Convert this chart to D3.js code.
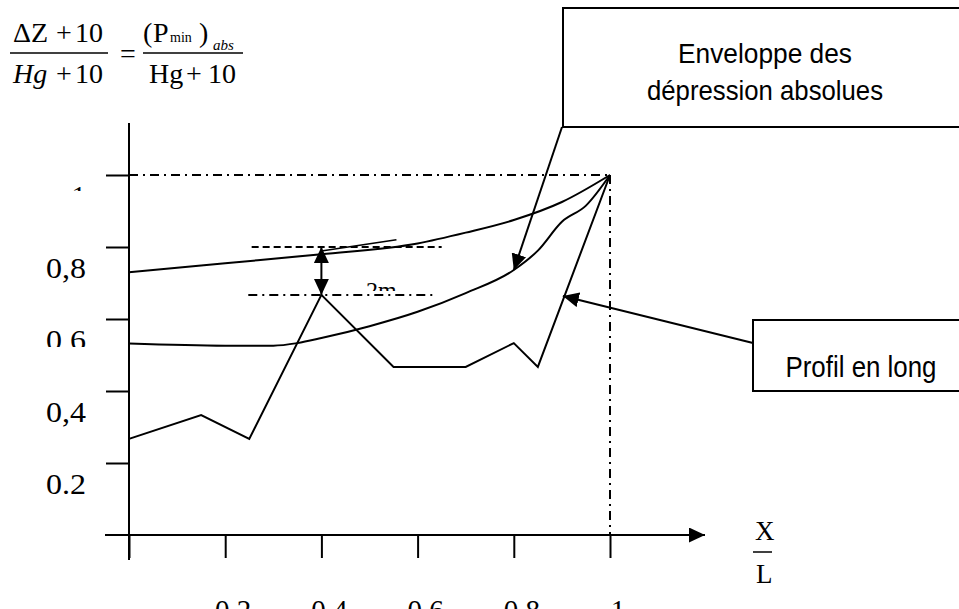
<!DOCTYPE html>
<html>
<head>
<meta charset="utf-8">
<script src="https://cdn.jsdelivr.net/npm/d3@7"></script>
<style>
  body { margin: 0; background: #fff; }
  svg { display: block; }
</style>
</head>
<body>
<div id="canvas"></div>
<script>
// ticks and labels (as printed in the figure)
var xTicks = [0, 0.2, 0.4, 0.6, 0.8, 1];
var xTickLabels = ["", "0.2", "0.4", "0.6", "0.8", "1"];
var yTicks = [0.2, 0.4, 0.6, 0.8, 1];
var yTickLabels = ["0.2", "0,4", "0,6", "0,8", "1"];

// upper curve (Hg + 10 line)
var upperX = [0, 0.2, 0.4, 0.6, 0.7, 0.8, 0.9, 1];
var upperY = [0.73, 0.755, 0.78, 0.81, 0.84, 0.875, 0.925, 1];

// envelope of absolute depressions
var envX = [0, 0.2, 0.3, 0.35, 0.4, 0.5, 0.6, 0.7, 0.8, 0.85, 0.9, 0.95, 1];
var envY = [0.532, 0.526, 0.526, 0.533, 0.547, 0.58, 0.62, 0.672, 0.736, 0.79, 0.87, 0.915, 1];

// long profile
var profX = [0, 0.15, 0.25, 0.4, 0.55, 0.7, 0.8, 0.85, 1];
var profY = [0.267, 0.333, 0.267, 0.667, 0.467, 0.467, 0.533, 0.467, 1];

// small stray segment drawn over the upper curve
var strayX = [0.4, 0.556];
var strayY = [0.789, 0.82];

// "2m" marking: levels and their extents
var markLevels = [0.8, 0.667];
var markFrom = [0.255, 0.248];
var markTo = [0.65, 0.64];
var markAt = 0.4;

var W = 959, H = 609;
var serif = "'Liberation Serif', 'Times New Roman', serif";
var narrow = "'Liberation Sans Narrow', 'Arial Narrow', 'Liberation Sans', sans-serif";
var dashDot = "9,5,2,5";

var svg = d3.select("#canvas").append("svg")
  .attr("width", W).attr("height", H)
  .attr("viewBox", "0 0 " + W + " " + H);

var x = d3.scaleLinear().domain([0, 1]).range([129, 610]);
var y = d3.scaleLinear().domain([0, 1]).range([535, 175]);

var defs = svg.append("defs");
defs.append("marker")
  .attr("id", "tri")
  .attr("viewBox", "0 0 16 15")
  .attr("refX", 16).attr("refY", 7.5)
  .attr("markerWidth", 16).attr("markerHeight", 15)
  .attr("markerUnits", "userSpaceOnUse")
  .attr("orient", "auto-start-reverse")
  .append("path").attr("d", "M0,0L16,7.5L0,15Z").attr("fill", "#000");

// clip windows for the partly hidden labels
var clips = [
  { id: "clip-y1", x: 0, y: 0, w: 120, h: 191 },
  { id: "clip-y06", x: 0, y: 300, w: 120, h: 47 },
  { id: "clip-2m", x: 340, y: 260, w: 80, h: 31 },
  { id: "clip-box1", x: 563, y: 8, w: 400, h: 101 }
];
clips.forEach(function(c) {
  defs.append("clipPath").attr("id", c.id)
    .append("rect").attr("x", c.x).attr("y", c.y).attr("width", c.w).attr("height", c.h);
});

////////////////////////////
// reference lines at 1

svg.append("line")
  .attr("x1", x(0)).attr("x2", x(1)).attr("y1", y(1)).attr("y2", y(1))
  .attr("stroke", "#000").attr("stroke-width", 2).attr("stroke-dasharray", dashDot);
svg.append("line")
  .attr("x1", x(1)).attr("x2", x(1)).attr("y1", y(1)).attr("y2", y(0))
  .attr("stroke", "#000").attr("stroke-width", 2).attr("stroke-dasharray", dashDot);

////////////////////////////
// axes

var yAxis = d3.axisLeft(y).tickValues(yTicks).tickSize(23).tickFormat("");
var gy = svg.append("g").attr("transform", "translate(" + x(0) + ",0)").call(yAxis);
gy.select(".domain").remove();
gy.selectAll(".tick line").attr("stroke", "#000").attr("stroke-width", 2);

var xAxis = d3.axisBottom(x).tickValues(xTicks).tickSize(23).tickFormat("");
var gx = svg.append("g").attr("transform", "translate(0," + y(0) + ")").call(xAxis);
gx.select(".domain").remove();
gx.selectAll(".tick line").attr("stroke", "#000").attr("stroke-width", 2);

svg.append("line")
  .attr("x1", x(0)).attr("x2", x(0)).attr("y1", 123).attr("y2", 560)
  .attr("stroke", "#000").attr("stroke-width", 2);
svg.append("line")
  .attr("x1", 105).attr("x2", 705).attr("y1", y(0)).attr("y2", y(0))
  .attr("stroke", "#000").attr("stroke-width", 2)
  .attr("marker-end", "url(#tri)");

// tick labels, printed a little below their ticks
svg.append("g").selectAll("text")
  .data(yTicks)
  .enter().append("text")
  .attr("x", 86)
  .attr("y", function(d) { return y(d) + 31; })
  .attr("text-anchor", "end")
  .attr("font-family", serif).attr("font-size", 29)
  .attr("textLength", function(d, i) { return yTickLabels[i].length > 1 ? 40 : null; })
  .attr("lengthAdjust", "spacingAndGlyphs")
  .attr("clip-path", function(d) {
    if (d === 1) return "url(#clip-y1)";
    if (d === 0.6) return "url(#clip-y06)";
    return null;
  })
  .text(function(d, i) { return yTickLabels[i]; });

// the x labels sit partly below the bottom edge, as in the original
svg.append("g").selectAll("text")
  .data(xTicks)
  .enter().append("text")
  .attr("x", function(d) { return x(d) + 8; })
  .attr("y", 620)
  .attr("text-anchor", "middle")
  .attr("font-family", serif).attr("font-size", 29)
  .text(function(d, i) { return xTickLabels[i]; });

////////////////////////////
// curves

function pts(xs, ys) {
  return xs.map(function(v, i) { return [v, ys[i]]; });
}

var smooth = d3.line()
  .x(function(d) { return x(d[0]); })
  .y(function(d) { return y(d[1]); })
  .curve(d3.curveMonotoneX);
var straight = d3.line()
  .x(function(d) { return x(d[0]); })
  .y(function(d) { return y(d[1]); });

svg.append("path").datum(pts(upperX, upperY))
  .attr("d", smooth).attr("fill", "none").attr("stroke", "#000").attr("stroke-width", 2);
svg.append("path").datum(pts(envX, envY))
  .attr("d", smooth).attr("fill", "none").attr("stroke", "#000").attr("stroke-width", 2);
svg.append("path").datum(pts(profX, profY))
  .attr("d", straight).attr("fill", "none").attr("stroke", "#000").attr("stroke-width", 2);
svg.append("path").datum(pts(strayX, strayY))
  .attr("d", straight).attr("fill", "none").attr("stroke", "#000").attr("stroke-width", 1.5);

////////////////////////////
// 2m marking

svg.append("g").selectAll("line")
  .data(markLevels)
  .enter().append("line")
  .attr("x1", function(d, i) { return x(markFrom[i]); })
  .attr("x2", function(d, i) { return x(markTo[i]); })
  .attr("y1", function(d) { return y(d); })
  .attr("y2", function(d) { return y(d); })
  .attr("stroke", "#000").attr("stroke-width", 2)
  .attr("stroke-dasharray", function(d, i) { return i === 0 ? "7,4" : dashDot; });

svg.append("line")
  .attr("x1", x(markAt)).attr("x2", x(markAt))
  .attr("y1", y(markLevels[0])).attr("y2", y(markLevels[1]))
  .attr("stroke", "#000").attr("stroke-width", 2)
  .attr("marker-start", "url(#tri)").attr("marker-end", "url(#tri)");

svg.append("text")
  .attr("x", 366).attr("y", 298)
  .attr("font-family", serif).attr("font-size", 24)
  .attr("clip-path", "url(#clip-2m)")
  .text("2m");

////////////////////////////
// callouts

svg.append("rect")
  .attr("x", 563).attr("y", 8).attr("width", 420).attr("height", 119)
  .attr("fill", "#fff").attr("stroke", "#000").attr("stroke-width", 2);
svg.append("text")
  .attr("x", 765).attr("y", 63).attr("text-anchor", "middle")
  .attr("font-family", narrow).attr("font-size", 28)
  .attr("textLength", 174).attr("lengthAdjust", "spacingAndGlyphs")
  .text("Enveloppe des");
svg.append("text")
  .attr("x", 765).attr("y", 100).attr("text-anchor", "middle")
  .attr("font-family", narrow).attr("font-size", 28)
  .attr("textLength", 236).attr("lengthAdjust", "spacingAndGlyphs")
  .attr("clip-path", "url(#clip-box1)")
  .text("dépression absolues");
svg.append("line")
  .attr("x1", 562).attr("y1", 127)
  .attr("x2", x(0.8)).attr("y2", y(0.736))
  .attr("stroke", "#000").attr("stroke-width", 2)
  .attr("marker-end", "url(#tri)");

svg.append("rect")
  .attr("x", 753).attr("y", 320).attr("width", 230).attr("height", 71)
  .attr("fill", "#fff").attr("stroke", "#000").attr("stroke-width", 2);
svg.append("text")
  .attr("x", 861).attr("y", 377).attr("text-anchor", "middle")
  .attr("font-family", narrow).attr("font-size", 30)
  .attr("textLength", 151).attr("lengthAdjust", "spacingAndGlyphs")
  .text("Profil en long");
svg.append("line")
  .attr("x1", 753).attr("y1", 343)
  .attr("x2", x(0.902)).attr("y2", y(0.664))
  .attr("stroke", "#000").attr("stroke-width", 2)
  .attr("marker-end", "url(#tri)");

////////////////////////////
// formula and axis title

var f = svg.append("g").attr("font-family", serif).attr("font-size", 28);
f.append("text").attr("x", 13).attr("y", 42).text("ΔZ");
f.append("text").attr("x", 56).attr("y", 42).text("+");
f.append("text").attr("x", 75).attr("y", 42).text("10");
f.append("line").attr("x1", 10).attr("x2", 108).attr("y1", 53).attr("y2", 53)
  .attr("stroke", "#000").attr("stroke-width", 1.5);
f.append("text").attr("x", 13).attr("y", 83).attr("font-style", "italic").text("Hg");
f.append("text").attr("x", 56).attr("y", 83).text("+");
f.append("text").attr("x", 75).attr("y", 83).text("10");
f.append("text").attr("x", 120).attr("y", 63).text("=");
f.append("text").attr("x", 143).attr("y", 42).text("(");
f.append("text").attr("x", 153).attr("y", 42).text("P");
f.append("text").attr("x", 170).attr("y", 42).attr("font-size", 14).text("min");
f.append("text").attr("x", 199).attr("y", 42).text(")");
f.append("text").attr("x", 213).attr("y", 50).attr("font-size", 15).attr("font-style", "italic").text("abs");
f.append("line").attr("x1", 143).attr("x2", 243).attr("y1", 53).attr("y2", 53)
  .attr("stroke", "#000").attr("stroke-width", 1.5);
f.append("text").attr("x", 149).attr("y", 83).text("Hg");
f.append("text").attr("x", 186).attr("y", 83).text("+");
f.append("text").attr("x", 208).attr("y", 83).text("10");

var xl = svg.append("g").attr("font-family", serif).attr("font-size", 27);
xl.append("text").attr("x", 755).attr("y", 540).text("X");
xl.append("line").attr("x1", 753).attr("x2", 772).attr("y1", 552).attr("y2", 552)
  .attr("stroke", "#000").attr("stroke-width", 1.5);
xl.append("text").attr("x", 756).attr("y", 583).text("L");
</script>
</body>
</html>
